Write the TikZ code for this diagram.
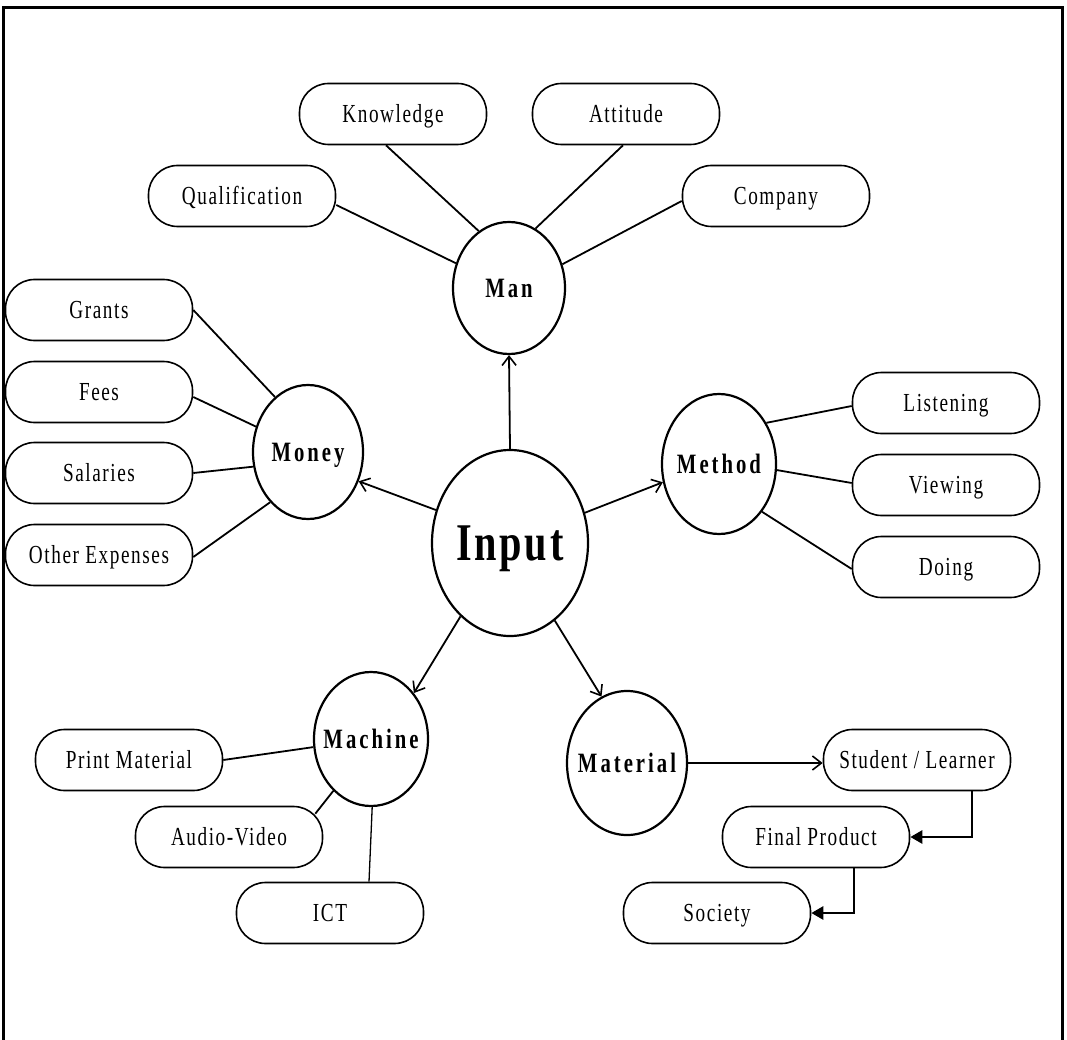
\documentclass[tikz,border=0pt]{standalone}
\usepackage{fontspec}
\setmainfont{Liberation Serif}
\newfontfamily\leaffont[FakeStretch=0.74,LetterSpace=6]{Liberation Serif}
\newfontfamily\hubfont[FakeStretch=0.74,LetterSpace=10.7]{Liberation Serif Bold}
\newfontfamily\corefont[FakeStretch=0.76,LetterSpace=5]{Liberation Serif Bold}
\usetikzlibrary{shapes.geometric,arrows.meta,calc}

% centre a bold label on an ellipse without letting it size the ellipse
\newcommand\hubtext[2]{\smash{\makebox[0pt]{\raisebox{-#1}{#2}}}}

\begin{document}
\begin{tikzpicture}[x=1pt,y=-1pt,
  leaf/.style={draw, line width=1.6pt, rounded corners=29pt,
    minimum width=187pt, minimum height=61pt, inner sep=0pt,
    text height=17.2pt, text depth=0pt,
    font={\leaffont\fontsize{26}{26}\selectfont}},
  hub/.style={draw, ellipse, line width=2.2pt, inner sep=0pt,
    font={\hubfont\fontsize{28}{28}\selectfont}},
  link/.style={line width=1.8pt},
  feed/.style={line width=1.8pt,
    -{Straight Barb[length=9pt,width=14pt,line width=1.6pt]}},
  pass/.style={line width=2.6pt, -{Triangle[length=12pt,width=13pt]}},
]
\useasboundingbox (0,0) rectangle (1067,1040);

% outer frame (open at the bottom)
\draw[line width=3pt] (3,1040) -- (3,8) -- (1062,8) -- (1062,1040);

% centre and the five branches
\node[hub, minimum width=156pt, minimum height=186pt,
  font={\corefont\fontsize{53}{53}\selectfont}] (input) at (510,543)
  {\hubtext{17.5pt}{Input}};
\node[hub, minimum width=112pt, minimum height=132pt] (man) at (509,288) {\hubtext{9.3pt}{Man}};
\node[hub, minimum width=110pt, minimum height=134pt] (money) at (308,452) {\hubtext{9.3pt}{Money}};
\node[hub, minimum width=114pt, minimum height=140pt] (method) at (719,464) {\hubtext{9.3pt}{Method}};
\node[hub, minimum width=114pt, minimum height=134pt] (machine) at (371,739) {\hubtext{9.3pt}{Machine}};
\node[hub, minimum width=120pt, minimum height=144pt] (material) at (627,763) {\hubtext{9.3pt}{Material}};

% leaves of Man
\node[leaf] (knowledge) at (393,114) {Knowledge};
\node[leaf] (attitude) at (626,114) {Attitude};
\node[leaf] (qual) at (242,196) {Qualification};
\node[leaf] (company) at (776,196) {Company};

% leaves of Money
\node[leaf] (grants) at (99,310) {Grants};
\node[leaf] (fees) at (99,392) {Fees};
\node[leaf] (salaries) at (99,473) {Salaries};
\node[leaf] (other) at (99,555) {Other Expenses};

% leaves of Method
\node[leaf] (listening) at (946,403) {Listening};
\node[leaf] (viewing) at (946,485) {Viewing};
\node[leaf] (doing) at (946,567) {Doing};

% leaves of Machine
\node[leaf] (printmat) at (129,760) {Print Material};
\node[leaf] (audio) at (229,837) {Audio-Video};
\node[leaf] (ict) at (330,913) {ICT};

% chain after Material
\node[leaf] (student) at (917,760) {Student / Learner};
\node[leaf] (final) at (816,837) {Final Product};
\node[leaf] (society) at (717,913) {Society};

% arrows out of the centre
\draw[feed] (input.north) -- (man.south);
\draw[feed] (input.156) -- (money.330);
\draw[feed] (input.22) -- (method.198);
\draw[feed] (input.236) -- (machine.47);
\draw[feed] (input.300) -- (material.111);

% Man
\draw[link] ($(qual.east)+(0,9)$) -- (man.155);
\draw[link] ($(knowledge.south)+(-7,0)$) -- (man.118);
\draw[link] ($(attitude.south)+(-3,0)$) -- (man.66);
\draw[link] ($(company.west)+(0,5)$) -- (man.24);

% Money
\draw[link] (grants.east) -- (money.121);
\draw[link] ($(fees.east)+(0,5)$) -- (money.154);
\draw[link] (salaries.east) -- (money.195);
\draw[link] ($(other.east)+(0,2)$) -- (money.233);

% Method
\draw[link] ($(listening.west)+(0,3)$) -- (method.41);
\draw[link] ($(viewing.west)+(0,-2)$) -- (method.354);
\draw[link] ($(doing.west)+(0,2)$) -- (method.312);

% Machine
\draw[link] (printmat.east) -- (machine.188);
\draw[link] ($(audio.north east)+(-8,8)$) -- (machine.234);
\draw[line width=1.3pt] ($(ict.north)+(39,0)$) -- (machine.271);

% Material and what follows from it
\draw[feed] (material.east) -- (material.east -| student.west);
\draw[pass] ($(student.south)+(55,0)$) |- (final.east);
\draw[pass] ($(final.south)+(38,0)$) |- (society.east);
\end{tikzpicture}
\end{document}
